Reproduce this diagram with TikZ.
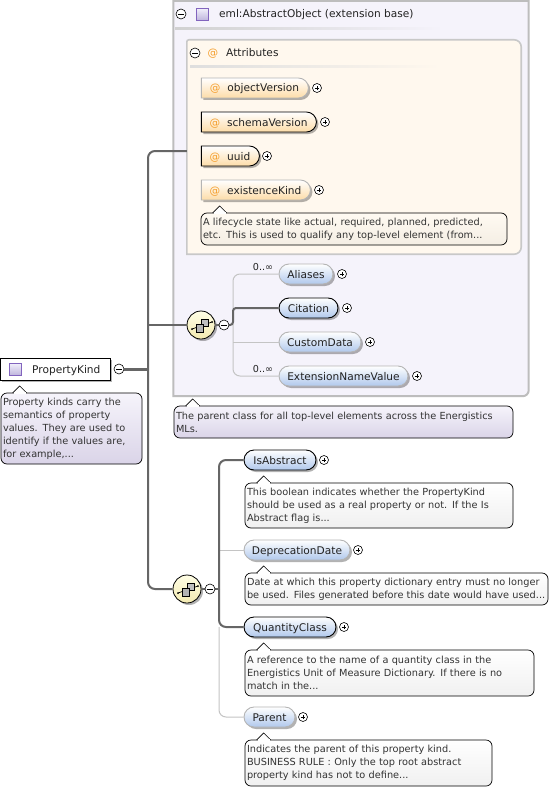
\documentclass[tikz,border=0pt]{standalone}
\usepackage{fontspec}
\setmainfont{DejaVu Sans}
\usetikzlibrary{shapes.misc,shadows,calc}
\definecolor{oborder}{HTML}{B4B4B4}
\definecolor{trunkc}{HTML}{666666}
\definecolor{thinc}{HTML}{C4C4C4}
\definecolor{boxfill}{HTML}{F5F3FB}
\definecolor{boxedge}{HTML}{BDBDBD}
\definecolor{attrfill}{HTML}{FFF8EE}
\definecolor{attredge}{HTML}{C8C8C8}
\definecolor{ats}{HTML}{F5A030}
\definecolor{textc}{HTML}{222222}
\definecolor{notetxt}{HTML}{333333}
\definecolor{pillblue}{HTML}{B0C8EC}
\definecolor{pillorange}{HTML}{FDDCA8}
\definecolor{seqtop}{HTML}{FFFEE6}
\definecolor{seqbot}{HTML}{F3EAB0}
\definecolor{wnbot}{HTML}{F0F0F0}
\definecolor{lavtop}{HTML}{F6F4FB}
\definecolor{lavbot}{HTML}{DAD4E8}
\definecolor{crtop}{HTML}{FFFAF2}
\definecolor{crbot}{HTML}{F4EEE4}
\definecolor{sqedge}{HTML}{8264BE}
\definecolor{sqtop}{HTML}{F0EEFA}
\definecolor{sqbot}{HTML}{BEB4DC}
\tikzset{
  x=1pt,y=-1pt,
  shad/.style={drop shadow={shadow xshift=2pt,shadow yshift=-2pt,fill=black,opacity=.3}},
  pilltext/.style={font=\fontsize{10.6}{12}\selectfont,text=textc,inner sep=0pt,text height=8pt,text depth=0pt},
  req/.style={draw=black,line width=.9pt},
  opt/.style={draw=oborder,line width=.9pt},
  bluepill/.style={rounded rectangle,top color=white,bottom color=pillblue,shad,pilltext},
  orangepill/.style={rounded rectangle,rounded rectangle west arc=none,top color=white,bottom color=pillorange,shad,pilltext},
  plusc/.style={circle,draw=black,fill=white,line width=.6pt,minimum size=9pt,inner sep=0pt,
    path picture={\draw[line width=.5pt] ([xshift=-2.4pt]path picture bounding box.center) -- ([xshift=2.4pt]path picture bounding box.center)
      ([yshift=-2.4pt]path picture bounding box.center) -- ([yshift=2.4pt]path picture bounding box.center);}},
  minusc/.style={circle,draw=black,fill=white,line width=.6pt,minimum size=10pt,inner sep=0pt,
    path picture={\draw[line width=.6pt] ([xshift=-2.8pt]path picture bounding box.center) -- ([xshift=2.8pt]path picture bounding box.center);}},
  seqc/.style={circle,draw=black,line width=.8pt,minimum size=28pt,inner sep=0pt,top color=seqtop,bottom color=seqbot,shad},
  notebox/.style={rectangle,rounded corners=6pt,draw=black,line width=.7pt,inner sep=2pt,align=left,text=notetxt,font=\fontsize{9.75}{13}\selectfont},
  whitenote/.style={notebox,top color=white,bottom color=wnbot},
  lavnote/.style={notebox,top color=lavtop,bottom color=lavbot},
  creamnote/.style={notebox,top color=crtop,bottom color=crbot},
  thickconn/.style={draw=trunkc,line width=2pt,rounded corners=7pt},
  thinconn/.style={draw=thinc,line width=1pt,rounded corners=7pt},
  sq/.style={rectangle,draw=sqedge,line width=.8pt,minimum size=12pt,inner sep=0pt,top color=sqtop,bottom color=sqbot},
  occ/.style={font=\fontsize{9.6}{10}\selectfont,text=textc,inner sep=0pt},
}
\newcommand{\pill}[6]{% name x1 x2 y style text
  \pgfmathsetmacro{\mycx}{(#2+#3)/2}\pgfmathsetmacro{\mywd}{#3-#2}
  \node[#5,minimum width=\mywd pt,minimum height=20pt] (#1) at (\mycx,#4) {#6};}
\newcommand{\attr}[5]{% name x1 x2 y style
  \pill{#1}{#2}{#3}{#4}{orangepill,#5}{\textcolor{ats}{@}\hspace{7pt}#1\hspace{2pt}}}
\newcommand{\note}[8]{% name x1 x2 y1 y2 style tipoffset text
  \pgfmathsetmacro{\mycx}{(#2+#3)/2}\pgfmathsetmacro{\mycy}{(#4+#5)/2}
  \pgfmathsetmacro{\mywd}{#3-#2}\pgfmathsetmacro{\myht}{#5-#4}\pgfmathsetmacro{\mytw}{#3-#2-4}
  \node[#6,minimum width=\mywd pt,minimum height=\myht pt,text width=\mytw pt] (#1) at (\mycx,\mycy) {#8};
  \filldraw[fill=white,draw=black,line width=.6pt] ([xshift=#7pt-7pt,yshift=-.3pt]#1.north west) -- ++(7,-7) -- ++(7,7);
  \fill[white] ([xshift=#7pt-6pt,yshift=-1pt]#1.north west) rectangle ([xshift=#7pt+6pt,yshift=.8pt]#1.north west);}
\newcommand{\seqicon}[1]{%
  \draw[line width=.7pt] ($(#1)+(-9,4)$) -- ($(#1)+(11,-3)$);
  \fill ($(#1)+(-9,4)$) circle (1pt) ($(#1)+(11,-3)$) circle (1pt);
  \filldraw[fill=gray!50,draw=black,line width=.5pt] ($(#1)+(0,-6)$) rectangle ($(#1)+(7,1)$);
  \filldraw[fill=gray!60,draw=black,line width=.5pt] ($(#1)+(-5,-1)$) rectangle ($(#1)+(2,7)$);}
\begin{document}
\begin{tikzpicture}
\useasboundingbox (0,0) rectangle (555,789);
\fill[white] (0,0) rectangle (555,789);
% containers
\node[rectangle,minimum width=355pt,minimum height=395pt,inner sep=0pt] (base) at (351,198.5) {};
\draw[draw=boxedge,fill=boxfill,line width=2pt] (base.north west) -- (base.north east) [rounded corners=6pt] -- (base.south east) [sharp corners] -- (base.south west) -- cycle;
\shade[left color=boxedge!70,right color=boxfill] (175,28) rectangle (443,30);
\node[minusc] (basem) at (181,14) {};
\node[sq] (basesq) at (202.5,14.5) {};
\node[pilltext,anchor=west] (basetxt) at (219,14) {eml:AbstractObject (extension base)};
\node[rectangle,minimum width=334pt,minimum height=214pt,inner sep=0pt] (attrbox) at (354,147) {};
\draw[draw=attredge,fill=attrfill,line width=1.6pt] (attrbox.south west) [rounded corners=2pt] -- (attrbox.north west) [rounded corners=7pt] -- (attrbox.north east) -- (attrbox.south east) [sharp corners] -- cycle;
\shade[left color=attredge!60,right color=attrfill] (190,66) rectangle (440,67.5);
\node[minusc] (attrm) at (195,53) {};
\node[pilltext,text=ats] (attrat) at (213,53) {@};
\node[pilltext,anchor=west] (attrtxt) at (226,53) {Attributes};
% attributes
\attr{objectVersion}{201}{308}{88}{opt}
\attr{schemaVersion}{201}{316}{122}{req}
\attr{uuid}{201}{259}{156}{req}
\attr{existenceKind}{201}{310}{190}{opt}
\node[plusc] (p1) at (317,88) {};
\node[plusc] (p2) at (325,122) {};
\node[plusc] (p3) at (267,156) {};
\node[plusc] (p4) at (319,190) {};
\note{n1}{201}{507}{213}{245}{creamnote}{19}{A lifecycle state like actual, required, planned, predicted,\\etc. This is used to qualify any top-level element (from...}
% root
\node[rectangle,draw=black,line width=1pt,fill=white,minimum width=110pt,minimum height=22pt,inner sep=0pt,shad] (root) at (55,369) {};
\node[sq] (rootsq) at (15.5,369.5) {};
\node[pilltext,anchor=west] (roottxt) at (32,369) {PropertyKind};
\node[minusc] (rootm) at (119,369) {};
\note{n0}{1}{142}{393}{464}{lavnote}{19}{Property kinds carry the\\semantics of property\\values. They are used to\\identify if the values are,\\for example,...}
\note{nb}{174}{513}{406}{438}{lavnote}{19}{The parent class for all top-level elements across the Energistics\\MLs.}
% trunk
\coordinate (tr) at (148,369);
\coordinate (tu) at (148,151);
\node[seqc] (s1) at (201,325) {};
\seqicon{s1}
\node[seqc] (s2) at (187,589) {};
\seqicon{s2}
\draw[thickconn,line width=3pt] (rootm) -- (tr);
\draw[thickconn] (tr) -- (tu) -- (attrbox.west |- tu);
\draw[thickconn] (tr) -- (tr |- s2) -- (s2.west);
\draw[thickconn] (tr |- s1) -- (s1.west);
% first sequence
\pill{Aliases}{279}{333}{274}{bluepill,opt}{Aliases}
\pill{Citation}{279}{338}{308}{bluepill,req}{Citation}
\pill{CustomData}{279}{361}{342}{bluepill,opt}{CustomData}
\pill{ExtensionNameValue}{279}{408}{376}{bluepill,opt}{ExtensionNameValue}
\node[plusc] (p5) at (342,274) {};
\node[plusc] (p6) at (347,308) {};
\node[plusc] (p7) at (370,342) {};
\node[plusc] (p8) at (417,376) {};
\node[occ] (o1) at (263,267) {0..∞};
\node[occ] (o2) at (263,369) {0..∞};
\coordinate (j1) at (233,325);
\draw[thinconn] (j1) -- (j1 |- Aliases) -- (Aliases.west);
\draw[thinconn] (j1) -- (j1 |- ExtensionNameValue) -- (ExtensionNameValue.west);
\draw[thinconn] (j1 |- CustomData) -- (CustomData.west);
\draw[thickconn,rounded corners=3pt] (s1.east) -- (j1) -- (j1 |- Citation) -- (Citation.west);
\node[minusc] (s1m) at (224,325) {};
% second sequence
\pill{IsAbstract}{244}{316}{460}{bluepill,req}{IsAbstract}
\pill{DeprecationDate}{244}{350}{550}{bluepill,opt}{DeprecationDate}
\pill{QuantityClass}{244}{336}{627}{bluepill,req}{QuantityClass}
\pill{Parent}{244}{295}{717}{bluepill,opt}{Parent}
\node[plusc] (p9) at (324,460) {};
\node[plusc] (p10) at (358,550) {};
\node[plusc] (p11) at (344,627) {};
\node[plusc] (p12) at (303,717) {};
\coordinate (j2) at (219,589);
\draw[thinconn] (j2 |- QuantityClass) -- (j2 |- Parent) -- (Parent.west);
\draw[thinconn] (j2 |- DeprecationDate) -- (DeprecationDate.west);
\draw[thickconn,rounded corners=0pt] (s2.east) -- (j2);
\draw[thickconn] (j2) -- (j2 |- IsAbstract) -- (IsAbstract.west);
\draw[thickconn] (j2) -- (j2 |- QuantityClass) -- (QuantityClass.west);
\node[minusc] (s2m) at (210,589) {};
\note{n2}{245}{513}{483}{528}{whitenote}{19}{This boolean indicates whether the PropertyKind\\should be used as a real property or not. If the Is\\Abstract flag is...}
\note{n3}{245}{548}{573}{605}{whitenote}{19}{Date at which this property dictionary entry must no longer\\be used. Files generated before this date would have used...}
\note{n4}{245}{534}{650}{696}{whitenote}{19}{A reference to the name of a quantity class in the\\Energistics Unit of Measure Dictionary. If there is no\\match in the...}
\note{n5}{245}{492}{740}{786}{whitenote}{19}{Indicates the parent of this property kind.\\BUSINESS RULE : Only the top root abstract\\property kind has not to define...}
\end{tikzpicture}
\end{document}
